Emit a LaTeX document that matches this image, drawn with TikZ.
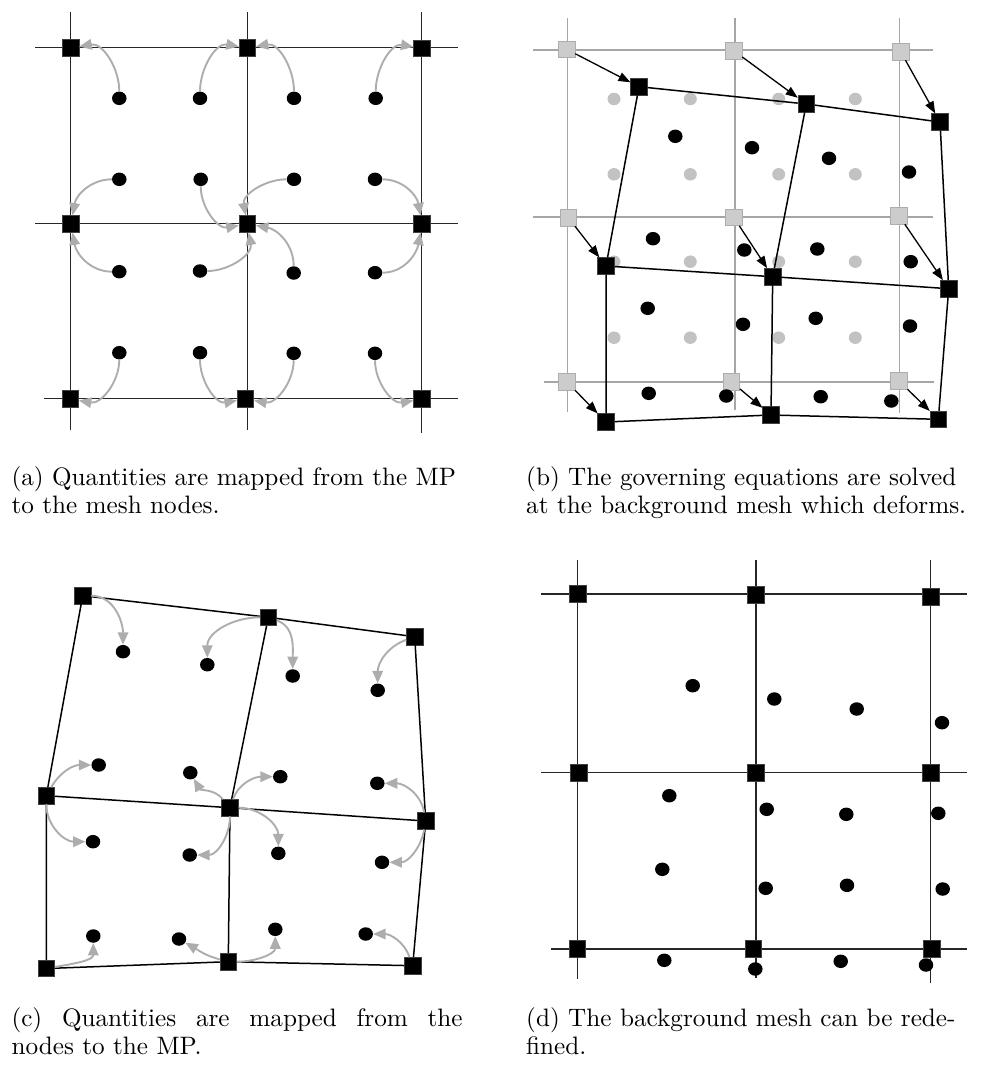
\documentclass[tikz,border=0pt]{standalone}
\usetikzlibrary{arrows.meta,shapes.geometric}
\begin{document}
\begin{tikzpicture}[x=1pt,y=1pt,
 sq/.style={rectangle,fill=black,draw=black!75,line width=0.6pt,minimum size=16.5pt,inner sep=0pt},
 gsq/.style={rectangle,fill=black!20,draw=black!32,line width=0.6pt,minimum size=16.5pt,inner sep=0pt},
 mp/.style={ellipse,fill=black,minimum width=14.5pt,minimum height=13.5pt,inner sep=0pt},
 gmp/.style={ellipse,fill=black!24,minimum width=13pt,minimum height=12.5pt,inner sep=0pt},
 meshline/.style={line width=1.5pt,draw=black!85},
 oldline/.style={line width=1.2pt,draw=black!35},
 maparrow/.style={draw=black!32,line width=1.9pt,-{Triangle[length=12.5pt,width=10.5pt]}},
 movearrow/.style={draw=black,line width=1.3pt,-{Triangle[length=12pt,width=9pt]}},
 captxt/.style={anchor=base west,inner sep=0pt,scale=2.52,font=\fontsize{10}{12}\selectfont}]
\path[use as bounding box] (0,0) rectangle (981,-1068);

% ---------------- panel (a) ----------------
\draw[meshline] (35,-47.7) -- (457.7,-47.7);
\draw[meshline] (35,-223.5) -- (457.7,-223.5);
\draw[meshline] (44,-398.5) -- (457.7,-398.5);
\draw[meshline] (70.7,-11.7) -- (70.7,-430);
\draw[meshline] (247.3,-12) -- (247.3,-430);
\draw[meshline] (421.7,-12) -- (421.7,-433);

\node[sq] (a11) at (70.7,-48) {};
\node[sq] (a12) at (247.3,-48) {};
\node[sq] (a13) at (422,-48.5) {};
\node[sq] (a21) at (71,-224) {};
\node[sq] (a22) at (247.3,-224) {};
\node[sq] (a23) at (422,-224) {};
\node[sq] (a31) at (70.3,-399) {};
\node[sq] (a32) at (245.5,-399) {};
\node[sq] (a33) at (422,-399) {};

\node[mp] (ap11) at (119.3,-98.3) {};
\node[mp] (ap12) at (200,-98.3) {};
\node[mp] (ap13) at (294,-98.3) {};
\node[mp] (ap14) at (375.7,-98.3) {};
\node[mp] (ap21) at (119.3,-179.3) {};
\node[mp] (ap22) at (200.7,-179.3) {};
\node[mp] (ap23) at (294,-179.3) {};
\node[mp] (ap24) at (375,-179.3) {};
\node[mp] (ap31) at (119.3,-271.7) {};
\node[mp] (ap32) at (200,-271) {};
\node[mp] (ap33) at (293.7,-273) {};
\node[mp] (ap34) at (375,-272.7) {};
\node[mp] (ap41) at (119.3,-352.7) {};
\node[mp] (ap42) at (200,-352.7) {};
\node[mp] (ap43) at (293.7,-353.3) {};
\node[mp] (ap44) at (375,-353.3) {};

\draw[maparrow] (ap11) to[out=90,in=10] (a11);
\draw[maparrow] (ap12) to[out=90,in=170] (a12);
\draw[maparrow] (ap13) to[out=90,in=10] (a12);
\draw[maparrow] (ap14) to[out=90,in=170] (a13);
\draw[maparrow] (ap21) to[out=180,in=80] (a21);
\draw[maparrow] (ap22) to[out=-90,in=190] (a22);
\draw[maparrow] (ap23) to[out=180,in=100] (a22);
\draw[maparrow] (ap24) to[out=0,in=100] (a23);
\draw[maparrow] (ap31) to[out=180,in=-80] (a21);
\draw[maparrow] (ap32) to[out=0,in=-80] (a22);
\draw[maparrow] (ap33) to[out=90,in=-10] (a22);
\draw[maparrow] (ap34) to[out=0,in=-100] (a23);
\draw[maparrow] (ap41) to[out=-90,in=-10] (a31);
\draw[maparrow] (ap42) to[out=-90,in=190] (a32);
\draw[maparrow] (ap43) to[out=-90,in=-10] (a32);
\draw[maparrow] (ap44) to[out=-90,in=190] (a33);

% ---------------- panel (b) ----------------
\draw[oldline] (533,-50) -- (932.7,-50);
\draw[oldline] (533,-217) -- (932.7,-217);
\draw[oldline] (544,-382) -- (934,-382);
\draw[oldline] (567.7,-18) -- (567.7,-412);
\draw[oldline] (735,-18) -- (735,-410);
\draw[oldline] (899.7,-18) -- (899.7,-413);

\node[gsq] (g11) at (566.7,-49.3) {};
\node[gsq] (g12) at (733.7,-50.7) {};
\node[gsq] (g13) at (900.7,-51.7) {};
\node[gsq] (g21) at (568.3,-217.7) {};
\node[gsq] (g22) at (733.7,-217.3) {};
\node[gsq] (g23) at (899,-215.7) {};
\node[gsq] (g31) at (566.7,-381.7) {};
\node[gsq] (g32) at (731.3,-381.7) {};
\node[gsq] (g33) at (899,-381) {};

\foreach \x in {614,690.3,778.7,855.3}
  \foreach \y in {99,174.3,261.7,337.7}
    \node[gmp] at (\x,-\y) {};

\node[sq] (b11) at (639,-86.7) {};
\node[sq] (b12) at (806.3,-104) {};
\node[sq] (b13) at (940,-122) {};
\node[sq] (b21) at (606,-266) {};
\node[sq] (b22) at (772.7,-276.7) {};
\node[sq] (b23) at (948.7,-288.7) {};
\node[sq] (b31) at (606,-422) {};
\node[sq] (b32) at (771,-415) {};
\node[sq] (b33) at (938.3,-419.3) {};

\draw[meshline,draw=black] (b11) -- (b12) -- (b13);
\draw[meshline,draw=black] (b21) -- (b22) -- (b23);
\draw[meshline,draw=black] (b31) -- (b32) -- (b33);
\draw[meshline,draw=black] (b11) -- (b21) -- (b31);
\draw[meshline,draw=black] (b12) -- (b22) -- (b32);
\draw[meshline,draw=black] (b13) -- (b23) -- (b33);

\draw[movearrow] (g11) -- (b11);
\draw[movearrow] (g12) -- (b12);
\draw[movearrow] (g13) -- (b13);
\draw[movearrow] (g21) -- (b21);
\draw[movearrow] (g22) -- (b22);
\draw[movearrow] (g23) -- (b23);
\draw[movearrow] (g31) -- (b31);
\draw[movearrow] (g32) -- (b32);
\draw[movearrow] (g33) -- (b33);

\node[mp] (bp11) at (675.3,-136.3) {};
\node[mp] (bp12) at (752,-147.7) {};
\node[mp] (bp13) at (829,-158.3) {};
\node[mp] (bp14) at (909,-172) {};
\node[mp] (bp21) at (653,-238.7) {};
\node[mp] (bp22) at (744.3,-250) {};
\node[mp] (bp23) at (817.3,-249) {};
\node[mp] (bp24) at (910.7,-261.7) {};
\node[mp] (bp31) at (647.7,-308.3) {};
\node[mp] (bp32) at (743,-324.3) {};
\node[mp] (bp33) at (815.7,-318.3) {};
\node[mp] (bp34) at (910,-326) {};
\node[mp] (bp41) at (648.7,-393.3) {};
\node[mp] (bp42) at (726.3,-396) {};
\node[mp] (bp43) at (820.7,-396.7) {};
\node[mp] (bp44) at (891.3,-401) {};

% ---------------- panel (c) ----------------
\node[sq] (c11) at (82.7,-595.7) {};
\node[sq] (c12) at (268.3,-617.3) {};
\node[sq] (c13) at (414.7,-636.7) {};
\node[sq] (c21) at (46.3,-795.7) {};
\node[sq] (c22) at (230,-807.7) {};
\node[sq] (c23) at (425.7,-821) {};
\node[sq] (c31) at (46.3,-968.5) {};
\node[sq] (c32) at (228.3,-961.7) {};
\node[sq] (c33) at (412.7,-965.7) {};

\draw[meshline,draw=black] (c11) -- (c12) -- (c13);
\draw[meshline,draw=black] (c21) -- (c22) -- (c23);
\draw[meshline,draw=black] (c31) -- (c32) -- (c33);
\draw[meshline,draw=black] (c11) -- (c21) -- (c31);
\draw[meshline,draw=black] (c12) -- (c22) -- (c32);
\draw[meshline,draw=black] (c13) -- (c23) -- (c33);

\node[mp] (cp11) at (123,-651.7) {};
\node[mp] (cp12) at (207.3,-664.7) {};
\node[mp] (cp13) at (292.7,-676) {};
\node[mp] (cp14) at (377.7,-690.3) {};
\node[mp] (cp21) at (98.7,-765) {};
\node[mp] (cp22) at (190.3,-772.7) {};
\node[mp] (cp23) at (280.3,-776.7) {};
\node[mp] (cp24) at (377.3,-783.3) {};
\node[mp] (cp31) at (93,-841.7) {};
\node[mp] (cp32) at (189.7,-855) {};
\node[mp] (cp33) at (278.3,-853.3) {};
\node[mp] (cp34) at (382,-862.3) {};
\node[mp] (cp41) at (93.3,-936) {};
\node[mp] (cp42) at (179,-939) {};
\node[mp] (cp43) at (275.3,-929.3) {};
\node[mp] (cp44) at (365.7,-934) {};

\draw[maparrow] (c11) to[out=0,in=90] (cp11);
\draw[maparrow] (c12) to[out=180,in=90] (cp12);
\draw[maparrow] (c12) to[out=-20,in=90] (cp13);
\draw[maparrow] (c13) to[out=-160,in=90] (cp14);
\draw[maparrow] (c21) to[out=60,in=180] (cp21);
\draw[maparrow] (c21) to[out=-90,in=180] (cp31);
\draw[maparrow] (c22) to[out=130,in=-60] (cp22);
\draw[maparrow] (c22) to[out=70,in=180] (cp23);
\draw[maparrow] (c22) to[out=-90,in=0] (cp32);
\draw[maparrow] (c22) to[out=0,in=90] (cp33);
\draw[maparrow] (c23) to[out=100,in=0] (cp24);
\draw[maparrow] (c23) to[out=-100,in=0] (cp34);
\draw[maparrow] (c31) to[out=10,in=-90] (cp41);
\draw[maparrow] (c32) to[out=165,in=-30] (cp42);
\draw[maparrow] (c32) to[out=0,in=-90] (cp43);
\draw[maparrow] (c33) to[out=110,in=0] (cp44);

% ---------------- panel (d) ----------------
\draw[meshline] (541,-594) -- (967.3,-594);
\draw[meshline] (541,-772.3) -- (967.3,-772.3);
\draw[meshline] (551,-949) -- (967.3,-949);
\draw[meshline] (577.7,-560) -- (577.7,-979);
\draw[meshline] (756,-560) -- (756,-978);
\draw[meshline] (930.7,-560) -- (930.7,-983);

\node[sq] (d11) at (577.7,-594) {};
\node[sq] (d12) at (756,-595) {};
\node[sq] (d13) at (931,-597) {};
\node[sq] (d21) at (578.7,-773) {};
\node[sq] (d22) at (756,-773) {};
\node[sq] (d23) at (931,-773) {};
\node[sq] (d31) at (577.3,-949) {};
\node[sq] (d32) at (753.3,-949) {};
\node[sq] (d33) at (931.7,-949) {};

\node[mp] (dp11) at (692.7,-685.7) {};
\node[mp] (dp12) at (774.3,-699) {};
\node[mp] (dp13) at (856.7,-709) {};
\node[mp] (dp14) at (942,-722.7) {};
\node[mp] (dp21) at (669.3,-795.7) {};
\node[mp] (dp22) at (766.7,-809.3) {};
\node[mp] (dp23) at (846.3,-814.3) {};
\node[mp] (dp24) at (938.3,-813.3) {};
\node[mp] (dp31) at (662.3,-869.3) {};
\node[mp] (dp32) at (765.7,-888.3) {};
\node[mp] (dp33) at (847,-885.3) {};
\node[mp] (dp34) at (942.7,-889) {};
\node[mp] (dp41) at (664.3,-960.3) {};
\node[mp] (dp42) at (755.3,-969) {};
\node[mp] (dp43) at (840.7,-961.3) {};
\node[mp] (dp44) at (926,-965) {};

% ---------------- captions ----------------
\node[captxt] (capa1) at (11,-485) {(a) Quantities are mapped from the MP};
\node[captxt] (capa2) at (11,-513) {to the mesh nodes.};
\node[captxt] (capb1) at (525.7,-485) {(b) The governing equations are solved};
\node[captxt] (capb2) at (525.7,-513) {at the background mesh which deforms.};
\node[captxt] (capc1) at (11,-1026) {\hbox to 179pt{(c)\hfill Quantities\hfill are\hfill mapped\hfill from\hfill the}};
\node[captxt] (capc2) at (11,-1054) {nodes to the MP.};
\node[captxt] (capd1) at (525.7,-1026) {(d) The background mesh can be rede-};
\node[captxt] (capd2) at (525.7,-1054) {fined.};
\end{tikzpicture}
\end{document}
